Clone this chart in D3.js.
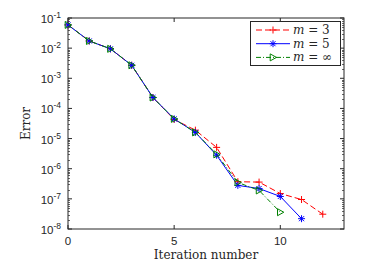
<!DOCTYPE html>
<html><head><meta charset="utf-8">
<script src="https://cdn.jsdelivr.net/npm/d3@7"></script>
<style>body{margin:0;background:#fff}svg{display:block}</style>
</head><body>
<script>
const iterM3 = [0,1,2,3,4,5,6,7,8,9,10,11,12];
const errM3 = [0.059,0.0173,0.0095,0.0027,2.3e-4,4.3e-5,1.9e-5,5.1e-6,3.7e-7,3.6e-7,1.5e-7,9.5e-8,3.1e-8];
const iterM5 = [0,1,2,3,4,5,6,7,8,9,10,11];
const errM5 = [0.059,0.0173,0.0095,0.0027,2.3e-4,4.5e-5,1.6e-5,2.8e-6,2.8e-7,2.2e-7,1.2e-7,2.2e-8];
const iterInf = [0,1,2,3,4,5,6,7,8,9,10];
const errInf = [0.059,0.0173,0.0095,0.0027,2.3e-4,4.5e-5,1.6e-5,3.0e-6,3.5e-7,1.9e-7,3.6e-8];
const xTicks = [0,5,10];
const yExps = [-1,-2,-3,-4,-5,-6,-7,-8];
const legendLabels = ["3","5","∞"];

const W=374,H=280;
const L=68,R=344,T=18,B=229;
const svg=d3.select("body").append("svg").attr("width",W).attr("height",H);
const x=d3.scaleLinear().domain([0,13]).range([L,R]);
const y=d3.scaleLog().domain([1e-8,1e-1]).range([B,T]);
const axisCol="#262626";
const g=svg.append("g");

g.append("rect").attr("x",L).attr("y",T).attr("width",R-L).attr("height",B-T)
 .attr("fill","none").attr("stroke",axisCol).attr("stroke-width",1);

const minors=[];
for(let e=-8;e<-1;e++){for(let k=2;k<=9;k++)minors.push(k*Math.pow(10,e));}
minors.forEach(v=>{
  const yy=Math.round(y(v))+0.5;
  g.append("line").attr("x1",L).attr("x2",L+2).attr("y1",yy).attr("y2",yy).attr("stroke",axisCol).attr("stroke-width",0.7);
  g.append("line").attr("x1",R).attr("x2",R-2).attr("y1",yy).attr("y2",yy).attr("stroke",axisCol).attr("stroke-width",0.7);
});
yExps.forEach(e=>{
  const yy=y(Math.pow(10,e));
  g.append("line").attr("x1",L).attr("x2",L+4).attr("y1",yy).attr("y2",yy).attr("stroke",axisCol);
  g.append("line").attr("x1",R).attr("x2",R-4).attr("y1",yy).attr("y2",yy).attr("stroke",axisCol);
  const t=g.append("text").attr("x",L-7).attr("y",yy+5).attr("text-anchor","end")
    .attr("font-family","Liberation Sans, Arial, sans-serif").attr("font-size",11.5).attr("fill","#262626");
  t.append("tspan").text("10");
  t.append("tspan").attr("dy",-5).attr("font-size",8.5).text("-"+(-e));
});
xTicks.forEach(v=>{
  const xx=x(v);
  g.append("line").attr("x1",xx).attr("x2",xx).attr("y1",B).attr("y2",B-4).attr("stroke",axisCol);
  g.append("line").attr("x1",xx).attr("x2",xx).attr("y1",T).attr("y2",T+4).attr("stroke",axisCol);
  g.append("text").attr("x",xx).attr("y",B+16).attr("text-anchor","middle")
    .attr("font-family","Liberation Sans, Arial, sans-serif").attr("font-size",11.5).attr("fill","#262626").text(v);
});

svg.append("text").attr("x",(L+R)/2).attr("y",B+30).attr("text-anchor","middle")
  .attr("font-family","DejaVu Serif, Liberation Serif, serif").attr("font-size",12).attr("fill","#262626").text("Iteration number");
svg.append("text").attr("transform",`translate(${L-38},${(T+B)/2}) rotate(-90)`).attr("text-anchor","middle")
  .attr("font-family","DejaVu Serif, Liberation Serif, serif").attr("font-size",12).attr("fill","#262626").text("Error");

const series=[
 {xs:iterM3,ys:errM3,color:"#ff0000",dash:"6,3",marker:"plus"},
 {xs:iterM5,ys:errM5,color:"#0000ff",dash:null,marker:"star"},
 {xs:iterInf,ys:errInf,color:"#008000",dash:"5,2,1,2",marker:"tri"}
];
function drawMarker(sel,type,cx,cy,color){
  const s=3.5;
  if(type==="plus"){
    sel.append("path").attr("d",`M${cx-s},${cy}H${cx+s}M${cx},${cy-s}V${cy+s}`).attr("stroke",color).attr("fill","none").attr("stroke-width",1);
  }else if(type==="star"){
    const d=s*0.72;
    sel.append("path").attr("d",`M${cx-s},${cy}H${cx+s}M${cx},${cy-s}V${cy+s}M${cx-d},${cy-d}L${cx+d},${cy+d}M${cx-d},${cy+d}L${cx+d},${cy-d}`).attr("stroke",color).attr("fill","none").attr("stroke-width",1);
  }else{
    sel.append("path").attr("d",`M${cx-s*0.8},${cy-s}L${cx+s},${cy}L${cx-s*0.8},${cy+s}Z`).attr("stroke",color).attr("fill","none").attr("stroke-width",1);
  }
}
const line=d3.line().x(d=>x(d[0])).y(d=>y(d[1]));
series.forEach(sr=>{
  const pts=sr.xs.map((v,i)=>[v,sr.ys[i]]);
  const p=g.append("path").datum(pts).attr("d",line).attr("fill","none").attr("stroke",sr.color).attr("stroke-width",1);
  if(sr.dash)p.attr("stroke-dasharray",sr.dash);
});
series.forEach(sr=>{
  sr.xs.forEach((v,i)=>drawMarker(g,sr.marker,x(v),y(sr.ys[i]),sr.color));
});

const lg=svg.append("g");
lg.append("rect").attr("x",250.5).attr("y",21.5).attr("width",90).attr("height",44).attr("fill","#fff").attr("stroke",axisCol);
series.forEach((sr,i)=>{
  const yy=30+i*13.7;
  const l=lg.append("line").attr("x1",256).attr("x2",290).attr("y1",yy).attr("y2",yy).attr("stroke",sr.color);
  if(sr.dash)l.attr("stroke-dasharray",sr.dash);
  drawMarker(lg,sr.marker,273,yy,sr.color);
  const t=lg.append("text").attr("x",293).attr("y",yy+4).attr("font-family","DejaVu Serif, Liberation Serif, serif").attr("font-size",12).attr("fill","#262626");
  t.append("tspan").attr("font-style","italic").text("m");
  t.append("tspan").text(" = "+legendLabels[i]);
});
</script>
</body></html>
